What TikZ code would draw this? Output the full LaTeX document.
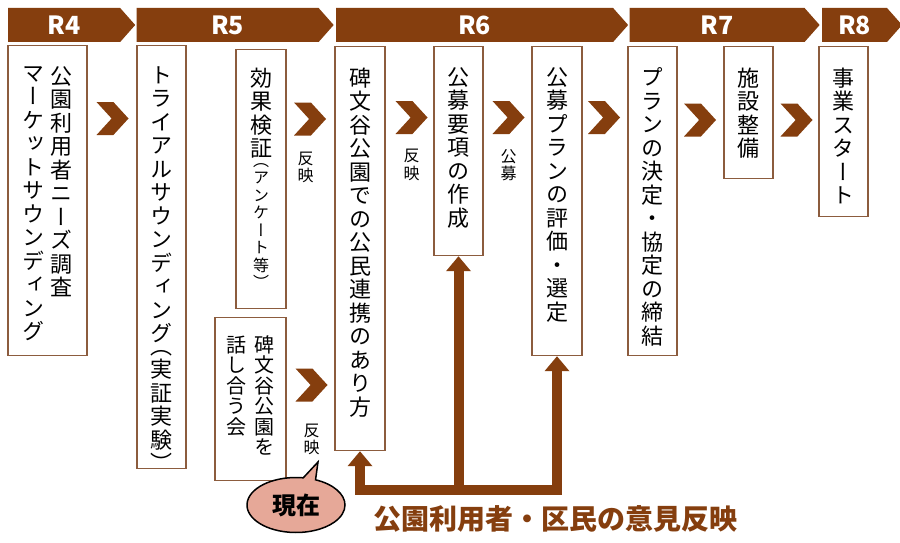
\documentclass[tikz,border=0pt]{standalone}
\usepackage{fontspec}
\usepackage{tikz}
\usetikzlibrary{arrows.meta,positioning,shapes.symbols,shapes.callouts}
\newfontfamily\jp[RawFeature=+vert]{Noto Sans CJK JP}
\newfontfamily\jph{Noto Sans CJK JP}
\definecolor{barbrown}{RGB}{133,62,14}
\definecolor{boxline}{RGB}{140,92,62}
\definecolor{bubblepink}{RGB}{230,168,152}
\newdimen\tatewd \tatewd=24pt
\makeatletter
\def\tate@open{（}
\def\tate@close{）}
\newcommand\tatechars[1]{\@tfor\tate@c:=#1\do{%
  \ifx\tate@c\tate@open\vskip-0.5em\fi
  \hbox to \tatewd{\hss\tate@c\hss}%
  \ifx\tate@c\tate@close\vskip-0.5em\fi}}
\makeatother
\newcommand\tatebox[3]{\vtop to #1{\lineskiplimit=-100pt\vskip #2\relax\tatechars{#3}\vss}}
\tikzset{
  yearbar/.style = {signal, signal to=east, signal pointer angle=97, fill=barbrown, text=white,
                    minimum height=34pt, inner sep=0pt, anchor=west, font=\jph\bfseries\fontsize{25}{25}\selectfont},
  chev/.style    = {signal, signal to=east, signal from=west, signal pointer angle=95, fill=barbrown,
                    minimum width=32pt, minimum height=33pt, inner sep=0pt},
  tbox/.style    = {draw=boxline, line width=1.2pt, fill=white, anchor=north, inner sep=0pt,
                    font=\jp\fontsize{22}{23.5}\selectfont},
  note/.style    = {inner sep=0pt, anchor=north, font=\jp\fontsize{16}{17.5}\selectfont},
  fbline/.style  = {draw=barbrown, line width=10pt},
  fbtip/.style   = {-{Triangle[width=24pt,length=15pt]}},
  bubble/.style  = {ellipse callout, callout absolute pointer={(318,462)}, fill=bubblepink, draw=black,
                    line width=1.5pt, minimum width=98pt, minimum height=55pt, inner sep=0pt,
                    font=\jph\bfseries\fontsize{24}{24}\selectfont},
}

\begin{document}
\begin{tikzpicture}[x=1pt,y=-1pt]
    \path[use as bounding box, fill=white] (0,0) rectangle (900,543);
    % year headers
    \node[yearbar, minimum width=127pt] (r4) at (8,25) {R4};
    \node[yearbar, minimum width=197pt, right=1pt of r4] (r5) {R5};
    \node[yearbar, minimum width=292pt, right=2pt of r5] (r6) {R6};
    \node[yearbar, minimum width=190pt, right=1pt of r6] (r7) {R7};
    \node[yearbar, minimum width=80pt, right=2pt of r7] (r8) {R8};
    % steps
    \node[tbox, minimum width=79pt] (b1) at (47.5,45)
      {\tatebox{310pt}{21pt}{マーケットサウンディング}\hspace{4pt}\tatebox{310pt}{21pt}{公園利用者ニーズ調査}};
    \node[tbox, minimum width=49pt] (b2) at (161.5,45) {\tatebox{423pt}{21pt}{トライアルサウンディング（実証実験）}};
    \node[tbox, minimum width=50pt] (b3) at (261,49)
      {\vtop to 259pt{\lineskiplimit=-100pt\vskip18pt\tatechars{効果検証}%
       {\fontsize{16}{17.5}\selectfont\tatechars{（アンケート等）}}\vss}};
    \node[tbox, minimum width=71pt, font=\jp\fontsize{20}{20.5}\selectfont] (b4) at (250.5,317)
      {\tatebox{163pt}{18pt}{話し合う会}\hspace{4pt}\tatebox{163pt}{18pt}{碑文谷公園を}};
    \node[tbox, minimum width=50pt] (b5) at (360,46) {\tatebox{404pt}{21pt}{碑文谷公園での公民連携のあり方}};
    \node[tbox, minimum width=49pt] (b6) at (458.5,46) {\tatebox{209pt}{21pt}{公募要項の作成}};
    \node[tbox, minimum width=50pt] (b7) at (557,46) {\tatebox{309pt}{21pt}{公募プランの評価・選定}};
    \node[tbox, minimum width=49pt] (b8) at (652.5,46) {\tatebox{309pt}{21pt}{プランの決定・協定の締結}};
    \node[tbox, minimum width=49pt] (b9) at (748.5,46) {\tatebox{132pt}{21pt}{施設整備}};
    \node[tbox, minimum width=49pt] (b10) at (843.5,46) {\tatebox{170pt}{21pt}{事業スタート}};
    % chevrons
    \node[chev] (c1) at (112.5,118.5) {};
    \node[chev] (c2) at (310,119) {};
    \node[chev] (c3) at (311.5,385) {};
    \node[chev] (c4) at (411.5,117.5) {};
    \node[chev] (c5) at (508.5,117.5) {};
    \node[chev] (c6) at (604,117.5) {};
    \node[chev] (c7) at (700,120) {};
    \node[chev] (c8) at (796.5,120) {};
    \node[note, below=16pt of c2.south west, anchor=north west] (m2) {\tatebox{36pt}{0pt}{反映}};
    \node[note, below=22pt of c3] (m3) {\tatebox{36pt}{0pt}{反映}};
    \node[note, below=15pt of c4] (m4) {\tatebox{36pt}{0pt}{反映}};
    \node[note, below=15pt of c5] (m5) {\tatebox{36pt}{0pt}{公募}};
    % feedback
    \coordinate (bus) at (459,490);
    \draw[fbline, {Triangle[width=24pt,length=15pt]}-{Triangle[width=24pt,length=15pt]}]
      (b5.south) -- (b5.south |- bus) -- (b7.south |- bus) -- (b7.south);
    \draw[fbline, fbtip] (b6.south |- bus) -- (b6.south);
    \node[text=barbrown, font=\jph\bfseries\fontsize{28}{28}\selectfont] (fb) at (555,519) {公園利用者・区民の意見反映};
    \node[bubble] (now) at (296,505) {現在};
  \end{tikzpicture}
\end{document}
